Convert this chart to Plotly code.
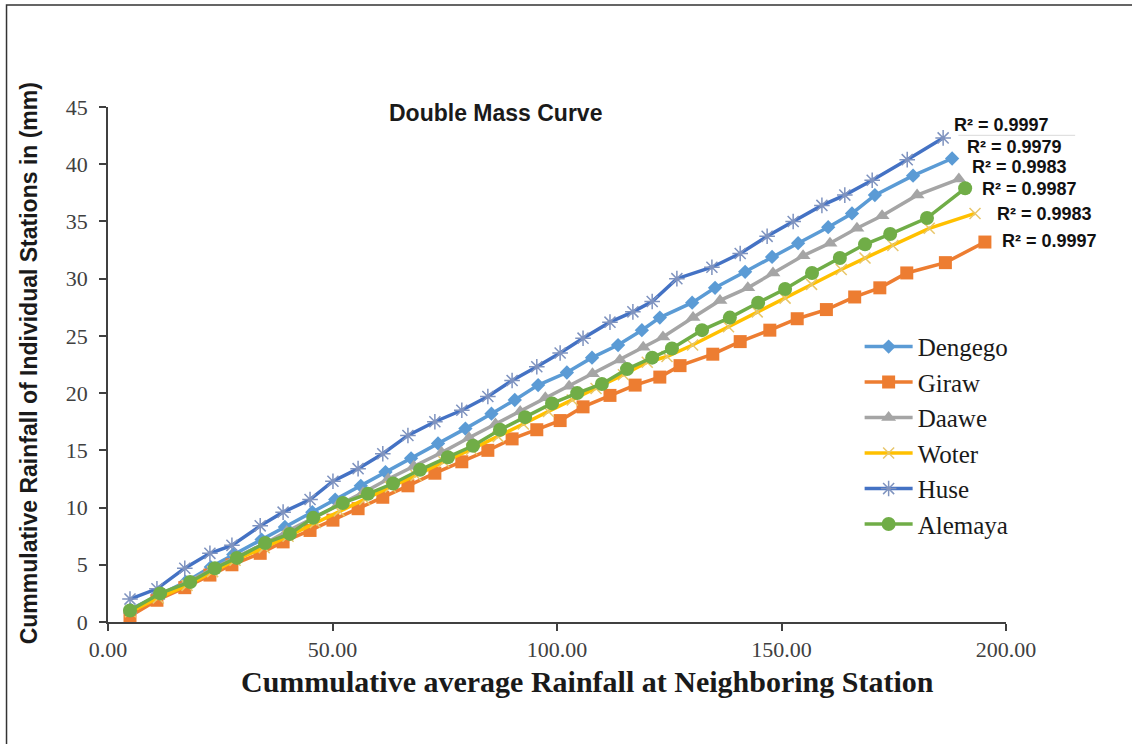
import plotly.graph_objects as go

# ---------------- data ----------------
dengego_x = [5.0, 11.0, 17.3, 22.9, 27.9, 34.2, 39.4, 45.5, 50.6, 56.3, 61.8, 67.5, 73.5, 79.6, 85.4,
             90.6, 95.8, 102.2, 107.8, 113.6, 118.9, 122.9, 130.1, 135.2, 141.9, 147.9, 153.7, 160.4,
             165.7, 170.8, 179.3, 188.0]
dengego_y = [1.1, 2.3, 3.5, 4.8, 5.9, 7.2, 8.3, 9.6, 10.7, 11.9, 13.1, 14.3, 15.6, 16.9, 18.2,
             19.4, 20.7, 21.8, 23.1, 24.2, 25.5, 26.6, 27.9, 29.2, 30.6, 31.9, 33.1, 34.5,
             35.7, 37.3, 39.0, 40.5]

giraw_x = [4.9, 10.9, 17.1, 22.7, 27.6, 33.9, 39.0, 45.0, 50.1, 55.7, 61.2, 66.8, 72.8, 78.8, 84.6,
           90.0, 95.5, 100.7, 105.8, 111.8, 117.4, 122.9, 127.4, 134.7, 140.8, 147.4, 153.5, 160.0,
           166.3, 171.9, 177.9, 186.5, 195.3]
giraw_y = [0.5, 1.9, 3.0, 4.1, 5.0, 6.0, 7.0, 8.0, 8.9, 9.9, 10.9, 11.9, 13.0, 14.0, 15.0,
           16.0, 16.8, 17.6, 18.8, 19.8, 20.7, 21.4, 22.4, 23.4, 24.5, 25.5, 26.5, 27.3,
           28.4, 29.2, 30.5, 31.4, 33.2]

daawe_x = [5.0, 11.1, 17.5, 23.2, 28.2, 34.6, 39.8, 45.9, 51.1, 56.8, 62.4, 68.1, 74.3, 80.4, 86.3,
           91.8, 97.4, 102.7, 107.9, 114.0, 119.2, 123.6, 130.3, 136.3, 142.5, 148.1, 154.8, 160.8,
           166.8, 172.4, 180.2, 189.5]
daawe_y = [1.0, 2.2, 3.4, 4.6, 5.6, 6.8, 7.9, 9.1, 10.2, 11.3, 12.5, 13.6, 14.8, 16.1, 17.3,
           18.4, 19.6, 20.6, 21.7, 22.9, 24.0, 24.9, 26.6, 28.1, 29.2, 30.5, 32.0, 33.1,
           34.4, 35.5, 37.3, 38.7]

woter_x = [5.0, 11.2, 17.6, 23.3, 28.3, 34.8, 40.1, 46.2, 51.5, 57.2, 62.9, 68.6, 74.8, 81.0, 86.9,
           92.5, 98.1, 103.4, 108.7, 114.8, 120.1, 124.5, 130.2, 138.2, 144.6, 150.8, 156.7, 163.3,
           168.6, 174.8, 182.9, 193.1]
woter_y = [0.9, 2.1, 3.2, 4.4, 5.4, 6.5, 7.5, 8.7, 9.7, 10.7, 11.8, 12.8, 14.0, 15.1, 16.2,
           17.3, 18.4, 19.4, 20.4, 21.6, 22.7, 23.2, 24.2, 25.8, 27.1, 28.3, 29.5, 30.8,
           31.8, 32.9, 34.4, 35.7]

huse_x = [4.9, 10.9, 17.1, 22.7, 27.6, 33.9, 39.0, 45.0, 50.1, 55.7, 61.2, 66.8, 72.8, 78.8, 84.6,
          90.0, 95.5, 100.7, 105.8, 111.8, 116.9, 121.2, 126.7, 134.5, 140.8, 146.8, 152.6, 159.0,
          164.1, 170.2, 178.0, 186.0]
huse_y = [2.0, 2.9, 4.7, 6.0, 6.7, 8.4, 9.6, 10.7, 12.3, 13.4, 14.7, 16.3, 17.5, 18.5, 19.7,
          21.1, 22.3, 23.5, 24.8, 26.2, 27.1, 28.0, 30.0, 31.0, 32.2, 33.7, 35.0, 36.4,
          37.3, 38.6, 40.4, 42.3]

alemaya_x = [4.9, 11.6, 18.3, 23.8, 28.7, 35.0, 40.5, 45.7, 52.3, 57.9, 63.5, 69.5, 75.7, 81.3, 87.3,
             92.9, 98.9, 104.5, 110.0, 115.6, 121.2, 125.6, 132.3, 138.5, 144.8, 150.8, 156.8, 163.0,
             168.6, 174.2, 182.4, 190.9]
alemaya_y = [1.0, 2.5, 3.5, 4.7, 5.6, 6.9, 7.7, 9.1, 10.4, 11.2, 12.1, 13.3, 14.4, 15.4, 16.8,
             17.9, 19.1, 20.0, 20.8, 22.1, 23.1, 23.9, 25.5, 26.6, 27.9, 29.1, 30.5, 31.8,
             33.0, 33.9, 35.3, 37.9]

r2_labels = ["R² = 0.9997", "R² = 0.9979", "R² = 0.9983", "R² = 0.9987", "R² = 0.9983", "R² = 0.9997"]
x_ticks = [0, 50, 100, 150, 200]
x_tick_text = ["0.00", "50.00", "100.00", "150.00", "200.00"]
y_ticks = [0, 5, 10, 15, 20, 25, 30, 35, 40, 45]

SERIF = "Liberation Serif, Times New Roman, serif"
SANS = "Liberation Sans, Arial, sans-serif"

series = [
    ("Dengego", dengego_x, dengego_y, "#5B9BD5", dict(symbol="diamond", size=11, color="#5B9BD5")),
    ("Giraw", giraw_x, giraw_y, "#ED7D31", dict(symbol="square", size=13, color="#ED7D31")),
    ("Daawe", daawe_x, daawe_y, "#A5A5A5", dict(symbol="triangle-up", size=13, color="#A5A5A5")),
    ("Woter", woter_x, woter_y, "#FFC000", dict(symbol="x-thin-open", size=11, color="#E8C66A",
                                                line=dict(width=1.5, color="#E8C66A"))),
    ("Huse", huse_x, huse_y, "#4472C4", dict(symbol="asterisk-open", size=13, color="#7F93BF",
                                             line=dict(width=1.5, color="#7F93BF"))),
    ("Alemaya", alemaya_x, alemaya_y, "#70AD47", dict(symbol="circle", size=14, color="#70AD47")),
]

fig = go.Figure()
for name, xs, ys, col, mk in series:
    fig.add_trace(go.Scatter(x=xs, y=ys, mode="lines+markers", name=name,
                             line=dict(color=col, width=3.5), marker=mk))

fig.update_layout(
    width=1132, height=744,
    margin=dict(l=108, r=126, t=107, b=122),
    paper_bgcolor="white", plot_bgcolor="white",
    showlegend=True,
    legend=dict(x=0.837, y=0.579, xanchor="left", yanchor="top",
                font=dict(family=SERIF, size=25, color="#1a1a1a"),
                bgcolor="rgba(0,0,0,0)", itemwidth=48, tracegroupgap=0),
    xaxis=dict(range=[0, 200], tickvals=x_ticks, ticktext=x_tick_text,
               showgrid=False, zeroline=False, showline=True, linecolor="#404040", linewidth=1.5,
               ticks="outside", ticklen=7, tickcolor="#404040", tickwidth=1.5,
               tickfont=dict(family=SERIF, size=22, color="#404040")),
    yaxis=dict(range=[0, 45], tickvals=y_ticks,
               showgrid=False, zeroline=False, showline=True, linecolor="#404040", linewidth=1.5,
               ticks="outside", ticklen=7, tickcolor="#404040", tickwidth=1.5,
               ticklabelstandoff=7,
               tickfont=dict(family=SERIF, size=22, color="#404040")),
)

annotations = [
    dict(text="<b>Double Mass Curve</b>", x=0.431, y=0.988, xref="paper", yref="paper",
         xanchor="center", yanchor="middle", showarrow=False,
         font=dict(family=SANS, size=23, color="#1a1a1a")),
    dict(text="<b>Cummulative average Rainfall at Neighboring Station</b>", x=0.5345, y=-0.116,
         xref="paper", yref="paper", xanchor="center", yanchor="middle", showarrow=False,
         font=dict(family=SERIF, size=30, color="#1a1a1a")),
    dict(text="<b>Cummulative Rainfall of Individual Stations in (mm)</b>", x=-0.087, y=0.502,
         xref="paper", yref="paper", xanchor="center", yanchor="middle", showarrow=False,
         textangle=-90, font=dict(family=SANS, size=23, color="#1a1a1a")),
]
r2_pos = [(0.940, 0.965), (0.954, 0.922), (0.960, 0.883), (0.971, 0.840), (0.988, 0.792), (0.993, 0.740)]
for lab, (px, py) in zip(r2_labels, r2_pos):
    annotations.append(dict(text="<b>" + lab + "</b>", x=px, y=py, xref="paper", yref="paper",
                            xanchor="left", yanchor="middle", showarrow=False,
                            font=dict(family=SANS, size=18, color="#111111")))
fig.update_layout(annotations=annotations)

fig.add_shape(type="line", xref="paper", yref="paper", x0=0.947, x1=1.077, y0=0.945, y1=0.945,
              line=dict(color="#D9D9D9", width=1))
# outer frame (only top and left edges fall inside the picture)
fig.add_shape(type="rect", xref="paper", yref="paper", x0=-0.113, x1=1.2, y0=-0.3, y1=1.198,
              line=dict(color="#333333", width=1.5), layer="below")

fig.write_html("out.html")
